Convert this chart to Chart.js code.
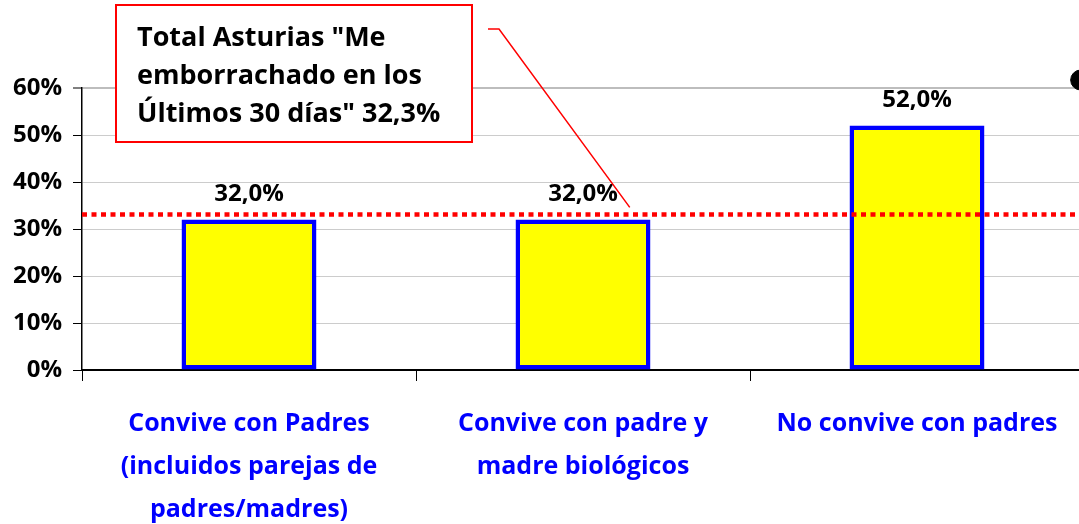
<!DOCTYPE html>
<html lang="es">
<head>
<meta charset="utf-8">
<title>Me emborrachado en los últimos 30 días</title>
<script src="https://cdn.jsdelivr.net/npm/chart.js@4.4.1/dist/chart.umd.min.js"></script>
<style>
  html, body { margin: 0; padding: 0; background: #fff; overflow: hidden; }
  #wrap { width: 1090px; height: 524px; }
</style>
</head>
<body>
<div id="wrap"><canvas id="chart" width="1090" height="524"></canvas></div>
<script>
// Datos
const categories = [
  ['Convive con Padres', '(incluidos parejas de', 'padres/madres)'],
  ['Convive con padre y', 'madre biológicos'],
  ['No convive con padres']
];
const values = [32.0, 32.0, 52.0];
const totalAsturias = 33.1;          // línea punteada roja (posición dibujada)
const totalLabel = ['Total Asturias "Me', 'emborrachado en los', 'Últimos 30 días" 32,3%'];
const yTicks = [0, 10, 20, 30, 40, 50, 60];
const markerPoint = { x: 2.49, y: 61.7 }; // punto negro en el borde derecho

const FONT = "'Open Sans', 'Noto Sans', sans-serif";

const fmt = v => v.toFixed(1).replace('.', ',') + '%';

// Etiquetas de valor sobre las barras
const barLabels = {
  id: 'barLabels',
  afterDatasetsDraw(chart) {
    const ctx = chart.ctx;
    const meta = chart.getDatasetMeta(0);
    ctx.save();
    ctx.font = "bold 24px " + FONT;
    ctx.fillStyle = '#000';
    ctx.textAlign = 'center';
    ctx.textBaseline = 'middle';
    meta.data.forEach((bar, i) => {
      ctx.fillText(fmt(values[i]), bar.x, bar.y - 25);
    });
    ctx.restore();
  }
};

// Cuadro de texto con su línea
const callout = {
  id: 'callout',
  afterDraw(chart) {
    const ctx = chart.ctx;
    const ys = chart.scales.y;
    const xl = chart.scales.xl;
    ctx.save();
    // línea del cuadro hacia la línea total
    ctx.strokeStyle = '#ff0000';
    ctx.lineWidth = 1.5;
    ctx.beginPath();
    ctx.moveTo(488, 29);
    ctx.lineTo(499, 29);
    ctx.lineTo(xl.getPixelForValue(1.14), ys.getPixelForValue(totalAsturias) - 7);
    ctx.stroke();
    // cuadro
    ctx.fillStyle = '#fff';
    ctx.fillRect(116, 5, 356, 137);
    ctx.strokeStyle = '#ff0000';
    ctx.lineWidth = 2;
    ctx.strokeRect(116, 5, 356, 137);
    ctx.fillStyle = '#000';
    ctx.font = "bold 27px " + FONT;
    ctx.textAlign = 'left';
    ctx.textBaseline = 'middle';
    totalLabel.forEach((t, i) => ctx.fillText(t, 137, 38 + i * 38));
    ctx.restore();
  }
};

new Chart(document.getElementById('chart'), {
  data: {
    labels: categories,
    datasets: [
      {
        type: 'bar',
        data: values,
        backgroundColor: '#ffff00',
        borderColor: '#0000ff',
        borderWidth: 4.5,
        borderSkipped: false,
        grouped: false,
        barPercentage: 0.404,
        categoryPercentage: 1,
        order: 2
      },
      {
        type: 'line',
        xAxisID: 'xl',
        data: [{ x: -0.5, y: totalAsturias }, { x: 2.5, y: totalAsturias }],
        borderColor: '#ff0000',
        borderWidth: 4.5,
        borderDash: [5, 4.5],
        pointRadius: 0,
        fill: false,
        clip: false,
        order: 1
      },
      {
        type: 'scatter',
        xAxisID: 'xl',
        data: [markerPoint],
        backgroundColor: '#000',
        borderColor: '#000',
        pointRadius: 10,
        clip: false,
        order: 0
      }
    ]
  },
  options: {
    responsive: false,
    animation: false,
    layout: { autoPadding: false, padding: { top: 88, right: 6, left: 0, bottom: 0 } },
    plugins: {
      legend: { display: false },
      tooltip: { enabled: false }
    },
    scales: {
      x: {
        type: 'category',
        offset: true,
        grid: {
          offset: true,
          drawOnChartArea: false,
          drawTicks: true,
          tickLength: 11,
          tickColor: '#000',
          tickWidth: 1
        },
        border: { display: true, color: '#000', width: 2 },
        ticks: {
          color: '#0000ff',
          padding: 21,
          maxRotation: 0,
          autoSkip: false,
          font: { family: FONT, size: 25, weight: 'bold', lineHeight: 1.72 }
        },
        afterFit(scale) { scale.height = 154; }
      },
      xl: {
        type: 'linear',
        display: false,
        min: -0.5,
        max: 2.5
      },
      y: {
        min: 0,
        max: 60,
        afterBuildTicks(scale) { scale.ticks = yTicks.map(v => ({ value: v })); },
        grid: {
          color: ctx => ctx.tick && ctx.tick.value === 60 ? '#bdbdbd' : '#cccccc',
          lineWidth: ctx => ctx.tick && ctx.tick.value === 60 ? 2 : 1,
          drawTicks: true,
          tickLength: 9,
          tickColor: '#000',
          tickWidth: 1
        },
        border: { display: true, color: '#000', width: 1.5 },
        ticks: {
          color: '#000',
          padding: 11,
          callback: v => v + '%',
          font: { family: FONT, size: 24, weight: 'bold' }
        },
        afterFit(scale) { scale.width = 82; }
      }
    }
  },
  plugins: [barLabels, callout]
});
</script>
</body>
</html>
